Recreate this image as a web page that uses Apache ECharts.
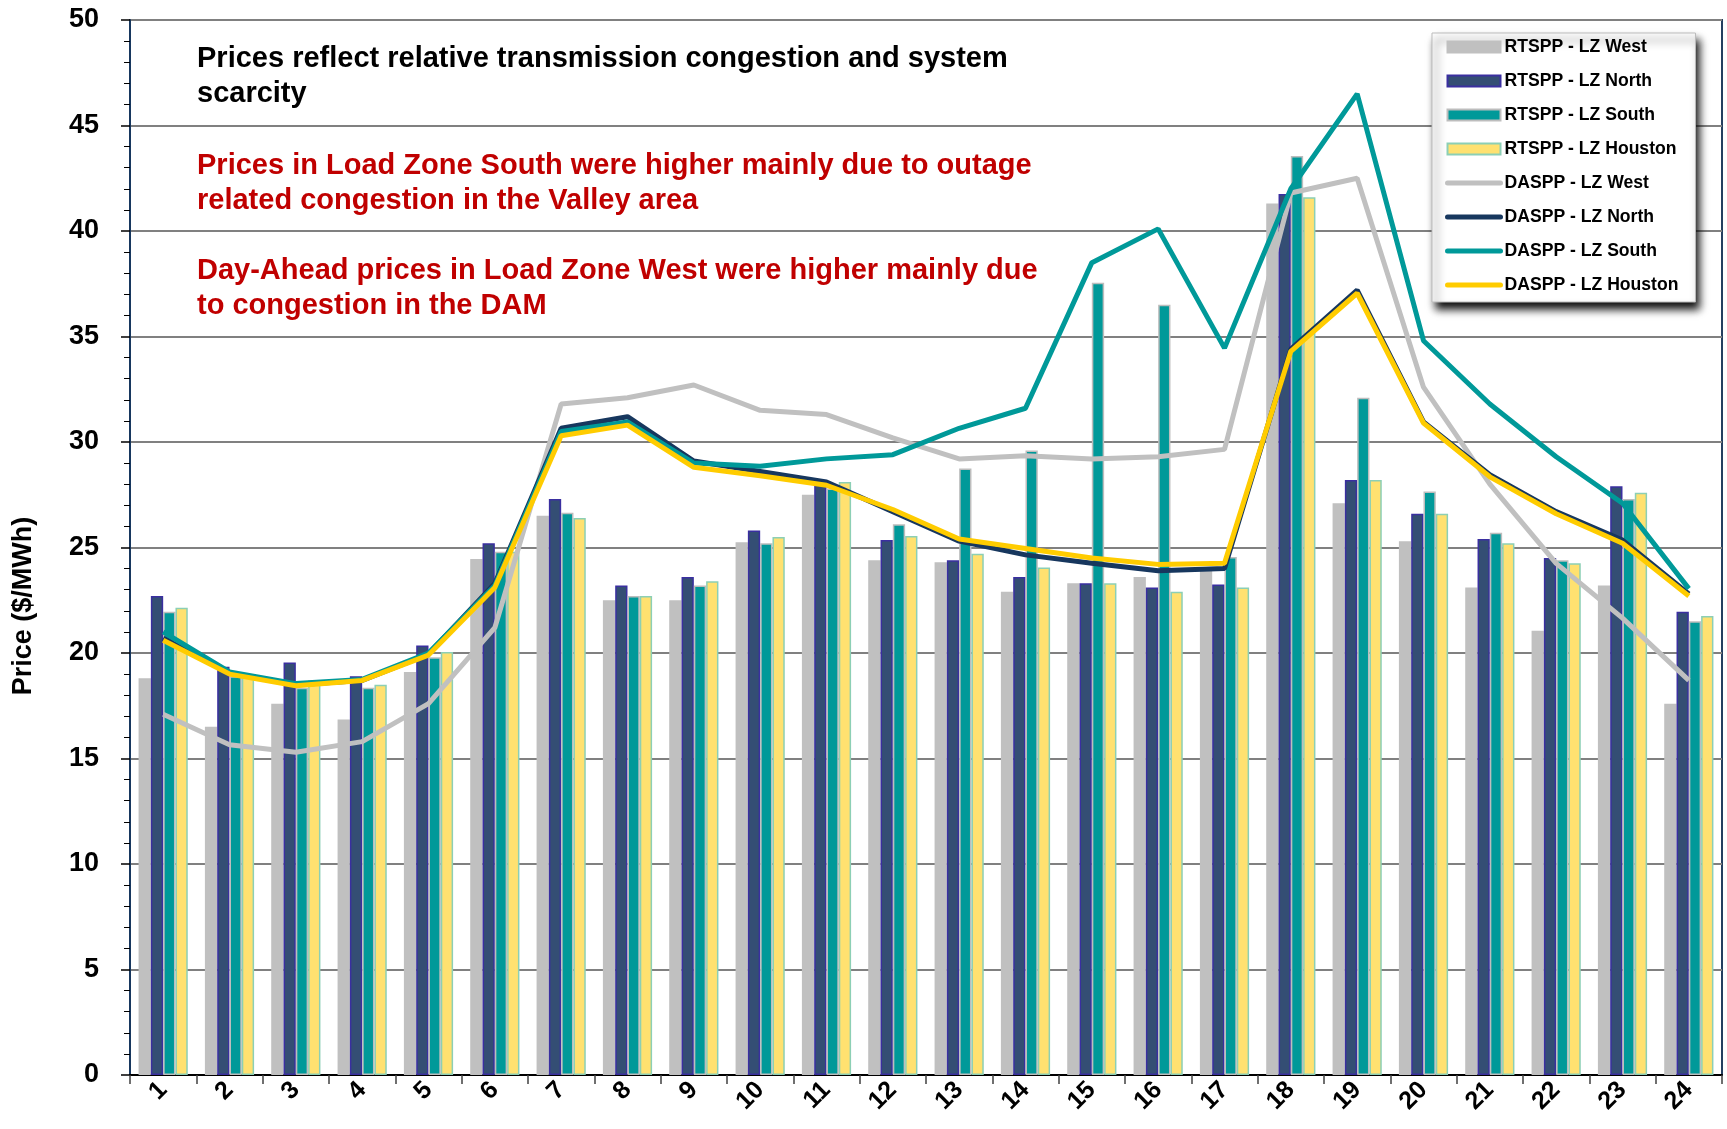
<!DOCTYPE html>
<html>
<head>
<meta charset="utf-8">
<title>RTSPP / DASPP by hour</title>
<script src="https://cdn.jsdelivr.net/npm/echarts@6.0.0/dist/echarts.min.js"></script>
<style>
  html, body { margin: 0; padding: 0; background: #fff; }
  #chart { width: 1727px; height: 1129px; }
</style>
</head>
<body>
<div id="chart"></div>
<script>
// hours of the day
const hours = ['1', '2', '3', '4', '5', '6', '7', '8', '9', '10', '11', '12',
  '13', '14', '15', '16', '17', '18', '19', '20', '21', '22', '23', '24']

// real-time settlement point prices ($/MWh)
const rtWest = [18.8, 16.5, 17.6, 16.85, 19.1, 24.45, 26.5, 22.5, 22.5, 25.25, 27.5, 24.4,
  24.3, 22.9, 23.3, 23.6, 23.9, 41.3, 27.1, 25.3, 23.1, 21.05, 23.2, 17.6]
const rtNorth = [22.7, 19.35, 19.55, 18.9, 20.35, 25.2, 27.3, 23.2, 23.6, 25.8, 28.2, 25.35,
  24.4, 23.6, 23.3, 23.1, 23.25, 41.75, 28.2, 26.6, 25.4, 24.5, 27.9, 21.95]
const rtSouth = [21.95, 18.9, 18.35, 18.35, 19.8, 24.8, 26.65, 22.7, 23.2, 25.2, 27.8, 26.1,
  28.75, 29.6, 37.55, 36.5, 24.55, 43.55, 32.1, 27.65, 25.7, 24.4, 27.3, 21.5]
const rtHouston = [22.15, 18.9, 18.7, 18.5, 20.05, 24.8, 26.4, 22.7, 23.4, 25.5, 28.1, 25.55,
  24.7, 24.05, 23.3, 22.9, 23.1, 41.6, 28.2, 26.6, 25.2, 24.25, 27.6, 21.75]

// day-ahead settlement point prices ($/MWh)
const daWest = [17.1, 15.65, 15.3, 15.8, 17.6, 21.2, 31.8, 32.1, 32.7, 31.5, 31.3, 30.2,
  29.2, 29.35, 29.2, 29.3, 29.65, 41.8, 42.5, 32.6, 28.0, 24.25, 21.65, 18.7]
const daNorth = [20.7, 19.05, 18.5, 18.7, 19.95, 23.3, 30.65, 31.2, 29.1, 28.6, 28.1, 26.7,
  25.3, 24.65, 24.25, 23.9, 24.0, 34.4, 37.2, 30.95, 28.45, 26.7, 25.35, 22.8]
const daSouth = [21.0, 19.1, 18.55, 18.75, 20.0, 23.2, 30.5, 30.95, 29.0, 28.85, 29.2, 29.4,
  30.65, 31.6, 38.5, 40.1, 34.45, 42.0, 46.5, 34.8, 31.8, 29.3, 27.1, 23.05]
const daHouston = [20.6, 19.0, 18.45, 18.7, 19.9, 23.1, 30.3, 30.8, 28.8, 28.4, 27.95, 26.8,
  25.4, 24.95, 24.5, 24.2, 24.25, 34.3, 37.05, 30.9, 28.35, 26.6, 25.2, 22.7]

const yTicks = { min: 0, max: 50, interval: 5 }

const font = 'Liberation Sans, Arial, sans-serif'

function bar (name, data, color, border) {
  return {
    name: name,
    type: 'bar',
    data: data,
    barWidth: 12.3,
    barGap: '0%',
    itemStyle: { color: color, borderColor: border, borderWidth: 1.5 }
  }
}

function line (name, data, color) {
  return {
    name: name,
    type: 'line',
    data: data,
    symbol: 'none',
    lineStyle: { color: color, width: 5 },
    itemStyle: { color: color }
  }
}

// legend entry for a line series: thick line, no marker
function lineKey (name) {
  return { name: name, itemStyle: { opacity: 0 }, lineStyle: { width: 5, cap: 'round' } }
}

const myChart = echarts.init(document.getElementById('chart'))

const opt = {
  animation: false,
  textStyle: { fontFamily: font },
  grid: {
    left: 130,
    right: 5,
    top: 20,
    bottom: 54,
    show: true,
    borderColor: '#243F60',
    borderWidth: 2
  },
  legend: {
    orient: 'vertical',
    left: 1432,
    top: 33,
    padding: [4, 17, 7, 13],
    itemWidth: 53,
    itemHeight: 11,
    itemGap: 14,
    backgroundColor: '#fff',
    borderColor: '#bbb',
    borderWidth: 1,
    shadowColor: 'rgba(0,0,0,0.95)',
    shadowBlur: 8,
    shadowOffsetX: 4,
    shadowOffsetY: 7,
    textStyle: { fontFamily: font, fontWeight: 'bold', fontSize: 17.6, color: '#000', lineHeight: 20, padding: [0, 0, 0, -1] },
    data: [
      { name: 'RTSPP - LZ West', icon: 'rect' },
      { name: 'RTSPP - LZ North', icon: 'rect' },
      { name: 'RTSPP - LZ South', icon: 'rect' },
      { name: 'RTSPP - LZ Houston', icon: 'rect' },
      lineKey('DASPP - LZ West'),
      lineKey('DASPP - LZ North'),
      lineKey('DASPP - LZ South'),
      lineKey('DASPP - LZ Houston')
    ]
  },
  xAxis: {
    type: 'category',
    data: hours,
    boundaryGap: true,
    axisLine: { lineStyle: { color: '#000', width: 2 } },
    axisTick: { show: true, length: 9, lineStyle: { color: '#404040', width: 1.5 } },
    axisLabel: {
      interval: 0,
      rotate: 45,
      margin: 11,
      color: '#000',
      fontFamily: font,
      fontWeight: 'bold',
      fontSize: 25
    }
  },
  yAxis: {
    type: 'value',
    min: yTicks.min,
    max: yTicks.max,
    interval: yTicks.interval,
    axisLine: { show: true, lineStyle: { color: '#17375E', width: 2 } },
    axisTick: { show: true, length: 9, lineStyle: { color: '#000', width: 1.5 } },
    minorTick: { show: true, splitNumber: 5, length: 6, lineStyle: { color: '#000', width: 1 } },
    splitLine: { show: true, lineStyle: { color: '#808080', width: 2 } },
    axisLabel: {
      margin: 31,
      color: '#000',
      fontFamily: font,
      fontWeight: 'bold',
      fontSize: 27
    }
  },
  graphic: [
    {
      type: 'text',
      left: 197,
      top: 41,
      style: {
        text: 'Prices reflect relative transmission congestion and system\nscarcity',
        font: 'bold 29px ' + font,
        lineHeight: 35,
        fill: '#000'
      }
    },
    {
      type: 'text',
      left: 197,
      top: 148,
      style: {
        text: 'Prices in Load Zone South were higher mainly due to outage\nrelated congestion in the Valley area',
        font: 'bold 29px ' + font,
        lineHeight: 35,
        fill: '#C00000'
      }
    },
    {
      type: 'text',
      left: 197,
      top: 253,
      style: {
        text: 'Day-Ahead prices in Load Zone West were higher mainly due\nto congestion in the DAM',
        font: 'bold 29px ' + font,
        lineHeight: 35,
        fill: '#C00000'
      }
    },
    {
      type: 'text',
      x: 24,
      y: 606,
      rotation: Math.PI / 2,
      style: {
        text: 'Price ($/MWh)',
        font: 'bold 27px ' + font,
        fill: '#000',
        align: 'center',
        verticalAlign: 'middle'
      }
    }
  ],
  series: [
    bar('RTSPP - LZ West', rtWest, '#C0C0C0', '#C0C0C0'),
    bar('RTSPP - LZ North', rtNorth, '#344E74', '#3A2FA0'),
    bar('RTSPP - LZ South', rtSouth, '#009999', '#BDBDBD'),
    bar('RTSPP - LZ Houston', rtHouston, '#FFE170', '#8CCFB5'),
    line('DASPP - LZ West', daWest, '#C0C0C0'),
    line('DASPP - LZ North', daNorth, '#17375E'),
    line('DASPP - LZ South', daSouth, '#009999'),
    line('DASPP - LZ Houston', daHouston, '#FFCC00')
  ]
}

myChart.setOption(opt, true)
window.addEventListener('resize', () => myChart.resize())
</script>
</body>
</html>
